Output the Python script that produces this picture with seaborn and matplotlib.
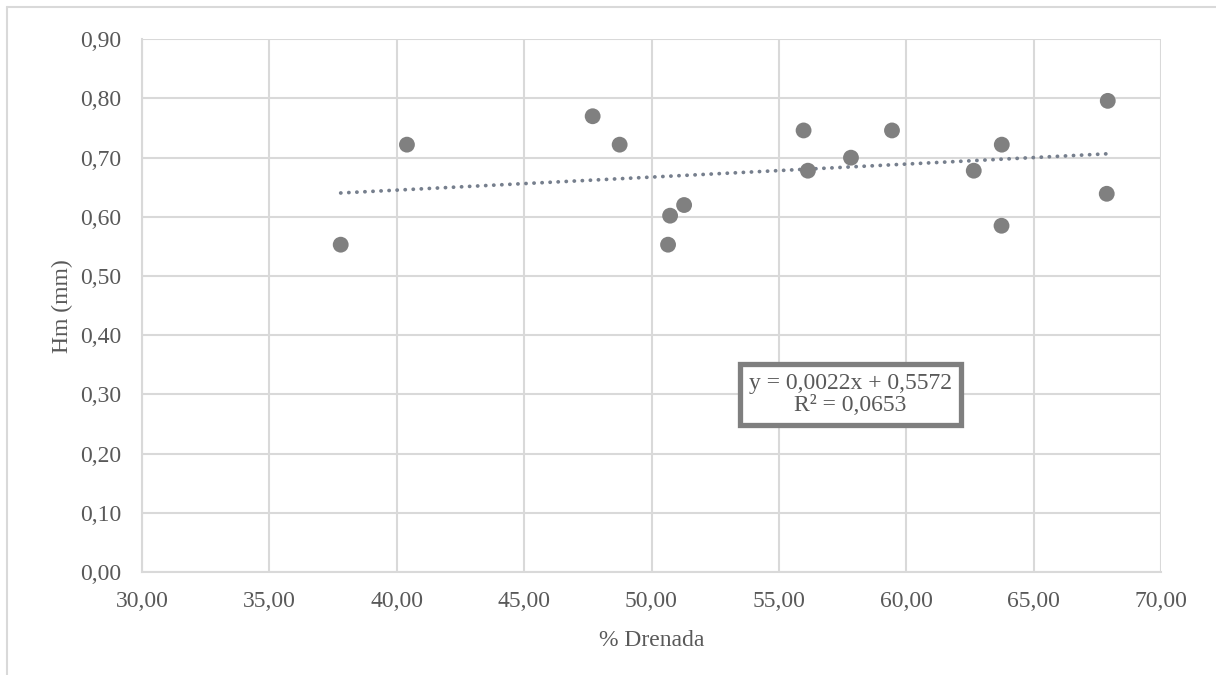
import numpy as np
import pandas as pd
import matplotlib
matplotlib.use("Agg")
import matplotlib.pyplot as plt
from matplotlib.lines import Line2D
import seaborn as sns

# ---- data ----
drenada = [37.80, 40.40, 47.69, 48.75, 50.73, 50.65, 51.28, 55.97, 56.14,
           57.83, 59.44, 62.65, 63.75, 63.74, 67.91, 67.87]
hm = [0.553, 0.722, 0.770, 0.722, 0.602, 0.553, 0.620, 0.746, 0.678,
      0.700, 0.746, 0.678, 0.722, 0.585, 0.796, 0.639]
slope = 0.0022
intercept = 0.5572
r2 = 0.0653
x_ticks = [30, 35, 40, 45, 50, 55, 60, 65, 70]
y_ticks = [0.0, 0.1, 0.2, 0.3, 0.4, 0.5, 0.6, 0.7, 0.8, 0.9]
x_label = "% Drenada"
y_label = "Hm (mm)"

df = pd.DataFrame({"x": drenada, "y": hm})

sns.set_style("white")
plt.rcParams['font.family'] = ['Liberation Serif', 'DejaVu Serif']

W, H = 1216, 675
fig = plt.figure(figsize=(W / 100, H / 100), dpi=100)
ax = fig.add_axes([142 / W, 1 - 572 / H, (1161 - 142) / W, (572 - 39.3) / H])

grid_c = "#d9d9d9"
text_c = "#595959"

# trend line from the equation
xs = np.array([min(drenada), max(drenada)])
trend = pd.DataFrame({"x": xs, "y": slope * xs + intercept})
sns.lineplot(data=trend, x="x", y="y", ax=ax, color="#767f8d", lw=2.7,
             linestyle=(0, (0.05, 2.1)), dash_capstyle="round", zorder=3)

sns.scatterplot(data=df, x="x", y="y", ax=ax, color="#808080", s=130,
                edgecolor="none", zorder=4)

ax.set_xlim(30, 70)
ax.set_ylim(0, 0.9)
ax.set_xticks(x_ticks)
ax.set_yticks(y_ticks)
ax.set_xticklabels([f"{v:.2f}".replace(".", ",") for v in x_ticks])
ax.set_yticklabels([f"{v:.2f}".replace(".", ",") for v in y_ticks])
ax.grid(True, color=grid_c, lw=1.5, zorder=0)
ax.set_axisbelow(True)
for s in ax.spines.values():
    s.set_visible(False)
ax.spines["bottom"].set_visible(True)
ax.spines["bottom"].set_color(grid_c)
ax.spines["bottom"].set_linewidth(1.5)
ax.spines["left"].set_visible(True)
ax.spines["left"].set_color(grid_c)
ax.spines["left"].set_linewidth(1.5)
ax.tick_params(axis="both", length=0, labelsize=17, colors=text_c)
ax.tick_params(axis="x", pad=14)
ax.tick_params(axis="y", pad=15)
ax.set_xlabel(x_label, fontsize=17, color=text_c, labelpad=13)
ax.set_ylabel(y_label, fontsize=17, color=text_c, labelpad=5)

eq = f"y = {slope:.4f}x + {intercept:.4f}".replace(".", ",") + "\n" + \
     f"R² = {r2:.4f}".replace(".", ",")
ax.text(57.8, 0.30, eq, ha="center", va="center", fontsize=17, color=text_c,
        linespacing=1.05, zorder=5,
        bbox=dict(boxstyle="square,pad=0.38", facecolor="white",
                  edgecolor="#7f7f7f", linewidth=3.8))

# chart area frame (left and top edges visible)
fig.add_artist(Line2D([7 / W, 7 / W], [0, 1 - 7 / H], transform=fig.transFigure,
                      color=grid_c, lw=1.5))
fig.add_artist(Line2D([7 / W, 1], [1 - 7 / H, 1 - 7 / H], transform=fig.transFigure,
                      color=grid_c, lw=1.5))

fig.savefig("out.png", dpi=100, facecolor="white")
